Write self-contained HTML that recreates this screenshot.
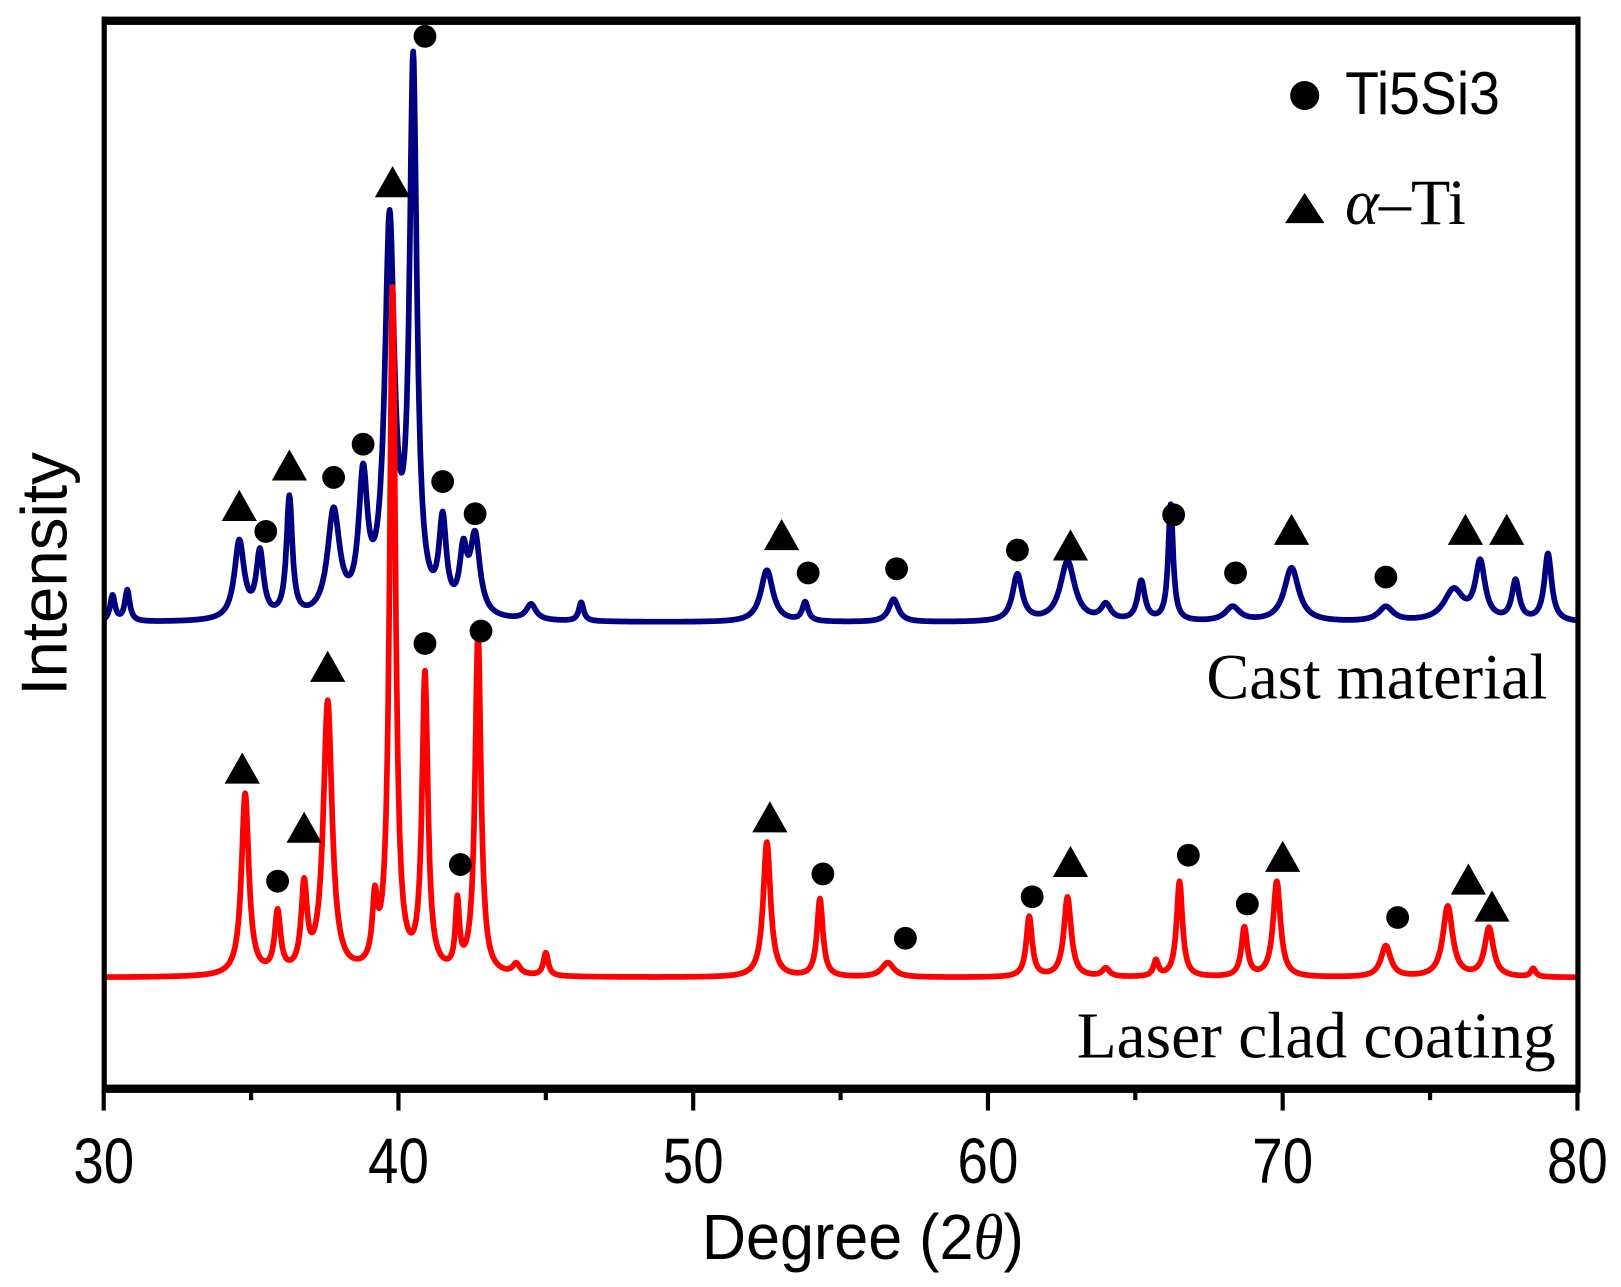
<!DOCTYPE html>
<html><head><meta charset="utf-8"><style>
html,body{margin:0;padding:0;background:#fff;}
svg{display:block;}
</style></head><body>
<svg id="chart" width="1621" height="1287" viewBox="0 0 1563 1240" preserveAspectRatio="none" xmlns="http://www.w3.org/2000/svg">
<g id="plot"></g>
<g id="axes">
<rect x="99" y="16" width="1424" height="8" fill="#000"/>
<rect x="99" y="1045" width="1424" height="8" fill="#000"/>
<rect x="98" y="16" width="5" height="1037" fill="#000"/>
<rect x="1519" y="16" width="5" height="1037" fill="#000"/>
</g>
<text x="64" y="553" transform="rotate(-90 64 553)" text-anchor="middle" font-family="Liberation Sans, sans-serif" font-size="63">Intensity</text>
<text transform="translate(832 1213) scale(0.95 1)" text-anchor="middle" font-family="Liberation Sans, sans-serif" font-size="62">Degree (2<tspan font-family="Liberation Serif, serif" font-style="italic">θ</tspan>)</text>
<g>
<circle cx="1258" cy="92" r="14" fill="#000"/>
<text transform="translate(1297 110) scale(0.92 1)" font-family="Liberation Sans, sans-serif" font-size="58">Ti5Si3</text>
<polygon points="1258,186 1277,215 1239,215" fill="#000"/>
<text x="1297" y="216" font-family="Liberation Serif, serif" font-size="62"><tspan font-style="italic">α</tspan>–Ti</text>
</g>
<text x="1492" y="673" text-anchor="end" font-family="Liberation Serif, serif" font-size="62">Cast material</text>
<text x="1500" y="1019" text-anchor="end" font-family="Liberation Serif, serif" font-size="63">Laser clad coating</text>
</svg>
<script>
const xTicks = [30, 40, 50, 60, 70, 80];
const xMinorTicks = [35, 45, 55, 65, 75];
const blueBase = 600;
const redBase = 942;
const bluePeakPos = [30.3, 30.8, 34.6, 35.3, 36.3, 37.8, 38.8, 39.7, 40.5, 41.5, 42.2, 42.6, 44.5, 46.2, 52.5, 53.8, 56.8, 61.0, 62.7, 64.0, 65.2, 66.2, 68.3, 70.3, 73.5, 75.8, 76.7, 77.9, 79.0];
const bluePeakH   = [25, 30, 75, 62, 115, 100, 125, 372, 523, 85, 55, 75, 15, 18, 50, 18, 22, 45, 58, 15, 38, 112, 14, 52, 14, 30, 55, 38, 65];
const bluePeakW   = [0.1, 0.1, 0.2, 0.15, 0.12, 0.25, 0.18, 0.2, 0.15, 0.15, 0.15, 0.2, 0.2, 0.1, 0.25, 0.12, 0.2, 0.2, 0.3, 0.2, 0.15, 0.1, 0.3, 0.3, 0.3, 0.4, 0.2, 0.15, 0.15];
const redPeakPos = [34.8, 35.9, 36.8, 37.6, 39.2, 39.8, 40.9, 42.0, 42.7, 44.0, 45.0, 52.5, 54.3, 56.6, 61.4, 62.7, 64.0, 65.7, 66.5, 68.7, 69.8, 73.5, 75.6, 77.0, 78.5];
const redPeakH   = [175, 58, 80, 262, 58, 658, 285, 64, 330, 10, 22, 130, 75, 14, 58, 77, 8, 15, 92, 47, 92, 30, 68, 47, 8];
const redPeakW   = [0.15, 0.12, 0.12, 0.18, 0.1, 0.12, 0.12, 0.08, 0.12, 0.15, 0.1, 0.15, 0.12, 0.25, 0.12, 0.15, 0.15, 0.1, 0.12, 0.12, 0.15, 0.2, 0.2, 0.18, 0.1];
const circleMarkers = [[35.5,512],[37.8,460],[38.8,428],[40.9,35],[41.5,464],[42.6,495],[53.9,552],[56.9,548],[61.0,530],[66.3,496],[68.4,552],[73.5,556],
  [40.9,620],[42.8,608],[35.9,849],[42.1,833],[54.4,842],[57.2,904],[61.5,864],[66.8,824],[68.8,871],[73.9,884]];
const triangleMarkers = [[34.6,487],[36.3,448],[39.8,175],[53.0,515],[62.8,525],[70.3,510],[76.2,510],[77.6,510],
  [37.6,642],[34.7,740],[36.8,797],[52.6,787],[62.8,830],[70.0,825],[76.3,847],[77.1,873]];

const NS = 'http://www.w3.org/2000/svg';
const X0 = 30, X1 = 80, PX0 = 100, PX1 = 1521;
function xScale(d){ return PX0 + (d - X0) / (X1 - X0) * (PX1 - PX0); }
function yScale(base, h){ return base - h; }
const plot = document.getElementById('plot');
const axes = document.getElementById('axes');
const svg = document.getElementById('chart');

function profile(pos, hs, ws, base){
  const pts = [];
  for (let d = X0; d <= X1 + 1e-9; d += 0.02){
    let s = 0;
    for (let i = 0; i < pos.length; i++){
      const u = (d - pos[i]) / ws[i];
      s += hs[i] / (1 + u * u);
    }
    pts.push(xScale(d).toFixed(1) + ',' + yScale(base, s).toFixed(1));
  }
  return pts.join(' ');
}
function addLine(pos, hs, ws, base, color, name){
  const p = document.createElementNS(NS, 'polyline');
  p.setAttribute('points', profile(pos, hs, ws, base));
  p.setAttribute('fill', 'none');
  p.setAttribute('stroke', color);
  p.setAttribute('stroke-width', '5.5');
  p.setAttribute('stroke-linejoin', 'round');
  
  
  plot.appendChild(p);
}
addLine(bluePeakPos, bluePeakH, bluePeakW, blueBase, '#000080', 'cast-material-series');
addLine(redPeakPos, redPeakH, redPeakW, redBase, '#ff0000', 'laser-clad-series');

circleMarkers.forEach(m => {
  const c = document.createElementNS(NS, 'circle');
  c.setAttribute('cx', xScale(m[0]));
  c.setAttribute('cy', m[1]);
  c.setAttribute('r', 11);
  c.setAttribute('fill', '#000');
  
  
  plot.appendChild(c);
});
triangleMarkers.forEach(m => {
  const x = xScale(m[0]), y = m[1];
  const t = document.createElementNS(NS, 'polygon');
  t.setAttribute('points', `${x},${y-15} ${x+17},${y+15} ${x-17},${y+15}`);
  t.setAttribute('fill', '#000');
  
  
  plot.appendChild(t);
});
xTicks.forEach(v => {
  const l = document.createElementNS(NS, 'rect');
  l.setAttribute('x', xScale(v) - 2);
  l.setAttribute('y', 1050);
  l.setAttribute('width', 4);
  l.setAttribute('height', 20);
  
  
  axes.appendChild(l);
  const t = document.createElementNS(NS, 'text');
  t.setAttribute('transform', `translate(${xScale(v)} 1140) scale(0.85 1)`);
  t.setAttribute('text-anchor', 'middle');
  t.setAttribute('font-family', 'Liberation Sans, sans-serif');
  t.setAttribute('font-size', '62');
  
  
  t.textContent = v;
  svg.appendChild(t);
});
xMinorTicks.forEach(v => {
  const l = document.createElementNS(NS, 'rect');
  l.setAttribute('x', xScale(v) - 2);
  l.setAttribute('y', 1050);
  l.setAttribute('width', 4);
  l.setAttribute('height', 10);
  
  
  axes.appendChild(l);
});
</script>
</body></html>
